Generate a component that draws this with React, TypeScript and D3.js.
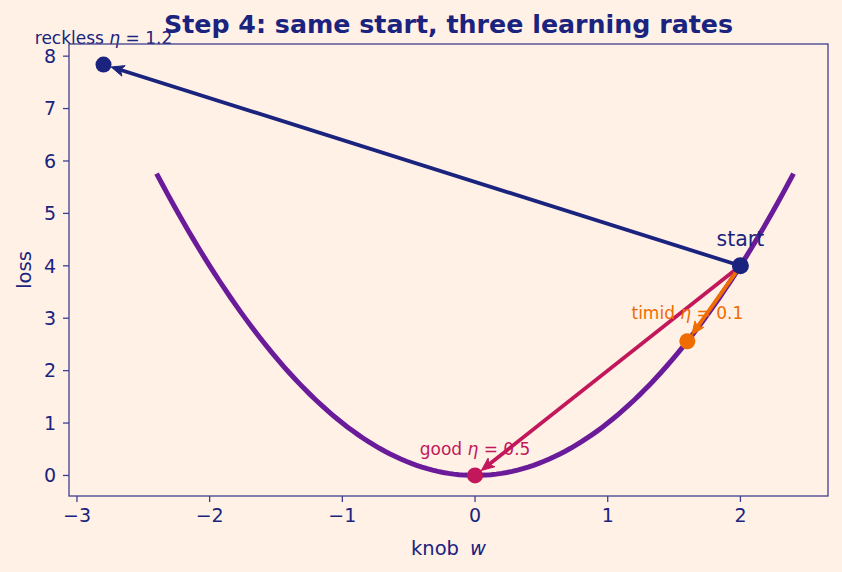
import * as d3 from 'd3';

const curveW = d3.range(-2.4, 2.4001, 0.04);
const start = { w: 2, loss: 4 };
const runs = [
  { name: 'reckless', eta: 1.2, w: -2.8, loss: 7.84, color: '#1a237e' },
  { name: 'good', eta: 0.5, w: 0, loss: 0, color: '#c2185b' },
  { name: 'timid', eta: 0.1, w: 1.6, loss: 2.56, color: '#ef6c00' },
];
const xTicks = [-3, -2, -1, 0, 1, 2];
const yTicks = [0, 1, 2, 3, 4, 5, 6, 7, 8];

const W = 842;
const H = 572;
const margin = { top: 44, right: 14, bottom: 76, left: 69 };
const navy = '#1a237e';
const spine = '#3f3f8f';
const font = "'DejaVu Sans', sans-serif";

export default function App() {
  const x = d3.scaleLinear().domain([-3.06, 2.66]).range([margin.left, W - margin.right]);
  const y = d3.scaleLinear().domain([-0.392, 8.232]).range([H - margin.bottom, margin.top]);

  const line = d3
    .line<number>()
    .x((w) => x(w))
    .y((w) => y(w * w));

  // arrow from start towards end, stopping short of the dot
  const arrow = (r: (typeof runs)[number]) => {
    const x0 = x(start.w), y0 = y(start.loss);
    const x1 = x(r.w), y1 = y(r.loss);
    const len = Math.hypot(x1 - x0, y1 - y0);
    const ux = (x1 - x0) / len, uy = (y1 - y0) / len;
    const tipX = x1 - ux * 8, tipY = y1 - uy * 8;
    const head = 13, hw = 5.5;
    const bx = tipX - ux * head, by = tipY - uy * head;
    const px = -uy, py = ux;
    const headPts = [
      [tipX, tipY],
      [bx + px * hw, by + py * hw],
      [tipX - ux * head * 0.75, tipY - uy * head * 0.75],
      [bx - px * hw, by - py * hw],
    ];
    return (
      <g key={r.name}>
        <line
          x1={x0}
          y1={y0}
          x2={tipX - ux * 6}
          y2={tipY - uy * 6}
          stroke={r.color}
          strokeWidth={3.8}
        />
        <polygon points={headPts.map((p) => p.join(',')).join(' ')} fill={r.color} stroke={r.color} strokeWidth={1} />
      </g>
    );
  };

  const etaLabel = (name: string, eta: number) => (
    <>
      {name + ' '}
      <tspan fontStyle="italic">η</tspan>
      {' = ' + eta}
    </>
  );

  const bottom = H - margin.bottom;

  return (
    <svg width={W} height={H} style={{ position: 'absolute', left: 0, top: 0, fontFamily: font }}>
      <rect width={W} height={H} fill="#fff1e6" />
      <text x={(margin.left + W - margin.right) / 2} y={33} textAnchor="middle" fontSize={25.3} fontWeight="bold" fill={navy}>
        Step 4: same start, three learning rates
      </text>

      <path d={line(curveW) ?? ''} fill="none" stroke="#6a1b9a" strokeWidth={5} />

      {runs.map(arrow)}

      {runs.map((r) => (
        <circle key={r.name} cx={x(r.w)} cy={y(r.loss)} r={8} fill={r.color} />
      ))}
      <circle cx={x(start.w)} cy={y(start.loss)} r={8.5} fill={navy} />

      <text x={x(start.w)} y={y(start.loss) - 20} textAnchor="middle" fontSize={20.5} fill={navy}>
        start
      </text>
      <text x={x(-2.8)} y={y(7.84) - 21} textAnchor="middle" fontSize={17} fill={runs[0].color}>
        {etaLabel('reckless', 1.2)}
      </text>
      <text x={x(0)} y={y(0) - 20} textAnchor="middle" fontSize={17} fill={runs[1].color}>
        {etaLabel('good', 0.5)}
      </text>
      <text x={x(1.6)} y={y(2.56) - 22} textAnchor="middle" fontSize={17} fill={runs[2].color}>
        {etaLabel('timid', 0.1)}
      </text>

      <rect
        x={margin.left}
        y={margin.top}
        width={W - margin.left - margin.right}
        height={H - margin.top - margin.bottom}
        fill="none"
        stroke={spine}
        strokeWidth={1.3}
      />

      {xTicks.map((t) => (
        <g key={t} transform={`translate(${x(t)},${bottom})`}>
          <line y2={6} stroke={spine} strokeWidth={1.3} />
          <text y={26} textAnchor="middle" fontSize={19} fill={navy}>
            {t < 0 ? '\u2212' + Math.abs(t) : t}
          </text>
        </g>
      ))}
      {yTicks.map((t) => (
        <g key={t} transform={`translate(${margin.left},${y(t)})`}>
          <line x2={-6} stroke={spine} strokeWidth={1.3} />
          <text x={-13} dy="0.36em" textAnchor="end" fontSize={19} fill={navy}>
            {t}
          </text>
        </g>
      ))}

      <text x={(margin.left + W - margin.right) / 2} y={555} textAnchor="middle" fontSize={19.5} fill={navy}>
        knob
        <tspan dx={11} fontStyle="italic">w</tspan>
      </text>
      <text
        transform={`translate(31,${(margin.top + bottom) / 2}) rotate(-90)`}
        textAnchor="middle"
        fontSize={19.5}
        fill={navy}
      >
        loss
      </text>
    </svg>
  );
}
